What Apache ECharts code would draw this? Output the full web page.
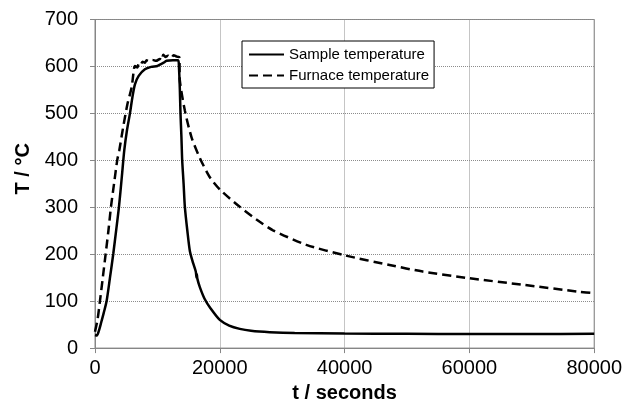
<!DOCTYPE html>
<html>
<head>
<meta charset="utf-8">
<script src="https://cdn.jsdelivr.net/npm/echarts@6/dist/echarts.min.js"></script>
<style>
html,body{margin:0;padding:0;background:#fff;}
#chart{width:625px;height:408px;}
</style>
</head>
<body>
<div id="chart"></div>
<script>
// Sample temperature (solid)
const sampleTime = [0, 300, 600, 1000, 1400, 1870, 2400, 2930, 3400, 3840, 4300, 4690, 5100, 5600, 6000, 6400, 7000, 8000, 9000, 10000, 10400, 11000, 11470, 12500, 13330, 13450, 13600, 13700, 13850, 13970, 14200, 14400, 14800, 15200, 15700, 16150, 16270, 16320, 16400, 16800, 17600, 18500, 20000, 21500, 23200, 25000, 28000, 32000, 40000, 50000, 60000, 70000, 80000];
const sampleTemp = [28, 27, 36, 55, 75, 101, 150, 201, 252, 301, 365, 421, 462, 500, 535, 562, 580, 594, 599, 601, 604, 608, 612, 613, 613, 600, 550, 500, 450, 401, 350, 301, 250, 207, 182, 163, 150, 158, 148, 130, 104, 85, 60, 48, 41, 37, 34, 32, 31, 30.5, 30, 30, 30.5];

// Furnace temperature (dashed)
const furnaceTime = [0, 400, 800, 1250, 1710, 2150, 2560, 3050, 3570, 3890, 4480, 5200, 5870, 6200, 6400, 6800, 7000, 7300, 7600, 8000, 8270, 8700, 9200, 9800, 10400, 10700, 10930, 11300, 11700, 12200, 12600, 13070, 13500, 13600, 14400, 15470, 16800, 18400, 20000, 23200, 26400, 28530, 33870, 39900, 47200, 52530, 59900, 68530, 77600, 80000];
const furnaceTemp = [35, 60, 101, 150, 201, 250, 301, 350, 401, 421, 468, 520, 555, 590, 601, 598, 606, 603, 610, 608, 613, 611, 614, 612, 616, 613, 625, 620, 623, 618, 624, 621, 620, 570, 506, 449, 405, 364, 338, 301, 269, 251, 220, 198, 177, 163, 149, 135, 120, 117];

// Axis ticks
const xTicks = [0, 20000, 40000, 60000, 80000];
const yTicks = [0, 100, 200, 300, 400, 500, 600, 700];

const sampleData = sampleTime.map((t, i) => [t, sampleTemp[i]]);
const furnaceData = furnaceTime.map((t, i) => [t, furnaceTemp[i]]);

const chart = echarts.init(document.getElementById('chart'), null, {renderer: 'canvas'});
const font = 'Liberation Sans, Arial, sans-serif';
const axisGray = '#868686';

chart.setOption({
  animation: false,
  backgroundColor: '#fff',
  grid: {left: 95, right: 30, top: 19.5, bottom: 59.5, show: true, borderColor: axisGray, borderWidth: 1},
  legend: {
    show: true,
    type: 'plain',
    orient: 'vertical',
    left: 242, top: 41,
    padding: [6, 5, 5, 6],
    itemWidth: 35, itemHeight: 14, itemGap: 6,
    borderColor: '#000', borderWidth: 1, backgroundColor: '#fff',
    itemStyle: {color: 'rgba(0,0,0,0)', borderWidth: 0},
    textStyle: {fontFamily: font, fontSize: 15, color: '#000'},
    data: ['Sample temperature', 'Furnace temperature']
  },
  xAxis: {
    type: 'value', min: xTicks[0], max: xTicks[xTicks.length - 1], interval: 20000,
    name: 't / seconds', nameLocation: 'middle', nameGap: 27,
    nameTextStyle: {fontFamily: font, fontSize: 20, fontWeight: 'bold', color: '#000'},
    axisLine: {show: true, lineStyle: {color: axisGray, width: 1}},
    axisTick: {show: true, length: 5, lineStyle: {color: axisGray}},
    axisLabel: {fontFamily: font, fontSize: 20, color: '#000', margin: 10, formatter: v => String(v)},
    splitLine: {show: true, lineStyle: {color: '#8c8c8c', type: [1, 1], width: 1}}
  },
  yAxis: {
    type: 'value', min: yTicks[0], max: yTicks[yTicks.length - 1], interval: 100,
    name: 'T / °C', nameLocation: 'middle', nameGap: 62, nameRotate: 90,
    nameTextStyle: {fontFamily: font, fontSize: 20, fontWeight: 'bold', color: '#000', padding: [0, 0, 0, 30]},
    axisLine: {show: true, lineStyle: {color: axisGray, width: 1}},
    axisTick: {show: true, length: 5, lineStyle: {color: axisGray}},
    axisLabel: {fontFamily: font, fontSize: 20, color: '#000', margin: 17, formatter: v => String(v)},
    splitLine: {show: true, lineStyle: {color: '#8c8c8c', type: [1, 1], width: 1}}
  },
  series: [
    {
      name: 'Sample temperature', type: 'line', data: sampleData,
      showSymbol: false, symbol: 'none', smooth: 0.25,
      lineStyle: {color: '#000', width: 2.5, type: 'solid'},
      itemStyle: {color: '#000'}
    },
    {
      name: 'Furnace temperature', type: 'line', data: furnaceData,
      showSymbol: false, symbol: 'none', smooth: 0.25,
      lineStyle: {color: '#000', width: 2.5, type: [9, 5]},
      itemStyle: {color: '#000'}
    }
  ]
});
</script>
</body>
</html>
